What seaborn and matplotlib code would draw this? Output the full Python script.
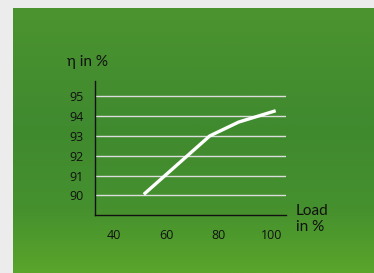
import numpy as np
import pandas as pd
import matplotlib
matplotlib.use("Agg")
import matplotlib.pyplot as plt
import seaborn as sns
from matplotlib.colors import LinearSegmentedColormap

load = [51.5, 76.5, 87.5, 101.5]
efficiency = [90.05, 93.0, 93.7, 94.27]
x_ticks = [40, 60, 80, 100]
y_ticks = [90, 91, 92, 93, 94, 95]

sns.set_style("white")
plt.rcParams['font.family'] = ['Open Sans', 'DejaVu Sans']

W, H = 374, 273
fig = plt.figure(figsize=(W / 100, H / 100), dpi=100)
fig.patch.set_facecolor("#ececec")

# green gradient panel
bg = fig.add_axes([13 / W, 0, 1 - 13 / W, (H - 7.5) / H], zorder=-5)
cmap = LinearSegmentedColormap.from_list(
    "g", [(0, "#4c942f"), (0.45, "#408a2f"), (0.75, "#45902e"), (1, "#5aa52b")])
grad = np.linspace(0, 1, 256).reshape(-1, 1)
bg.imshow(grad, aspect="auto", cmap=cmap, extent=[0, 1, 1, 0])
bg.set_axis_off()

ax = fig.add_axes([94.7 / W, 1 - 215 / H, (286 - 94.7) / W, (215 - 81) / H])
ax.set_facecolor("none")
df = pd.DataFrame({"load": load, "eff": efficiency})
sns.lineplot(data=df, x="load", y="eff", ax=ax, color="white", linewidth=2.4,
             sort=False, solid_capstyle="butt")

ax.set_xlim(32.9, 105.4)
ax.set_ylim(89.01, 95.77)
ax.set_xticks(x_ticks)
ax.set_yticks(y_ticks)
ax.set_xticklabels([str(v) for v in x_ticks])
ax.set_yticklabels([str(v) for v in y_ticks])
ax.grid(axis="y", color="#dcdcdc", linewidth=1.0)
ax.grid(axis="x", visible=False)
ax.set_axisbelow(True)
ax.tick_params(axis="y", length=5.8, width=1.0, color="#dcdcdc", pad=2,
               labelsize=9, labelcolor="#111111")
ax.tick_params(axis="x", length=0, pad=10, labelsize=9, labelcolor="#111111")
for s in ["top", "right"]:
    ax.spines[s].set_visible(False)
for s in ["left", "bottom"]:
    ax.spines[s].set_color("#111111")
    ax.spines[s].set_linewidth(1.0)
ax.set_xlabel("")
ax.set_ylabel("")

fig.text(67 / W, 1 - 62 / H, "η in %", fontsize=11, color="#111111",
         ha="left", va="center", family=["Lato", "Open Sans", "DejaVu Sans"])
fig.text(296 / W, 1 - 219 / H, "Load\nin %", fontsize=11, color="#111111",
         ha="left", va="center", linespacing=1.2,
         family=["Lato", "Open Sans", "DejaVu Sans"])

fig.savefig("out.png", dpi=100, facecolor=fig.get_facecolor())
